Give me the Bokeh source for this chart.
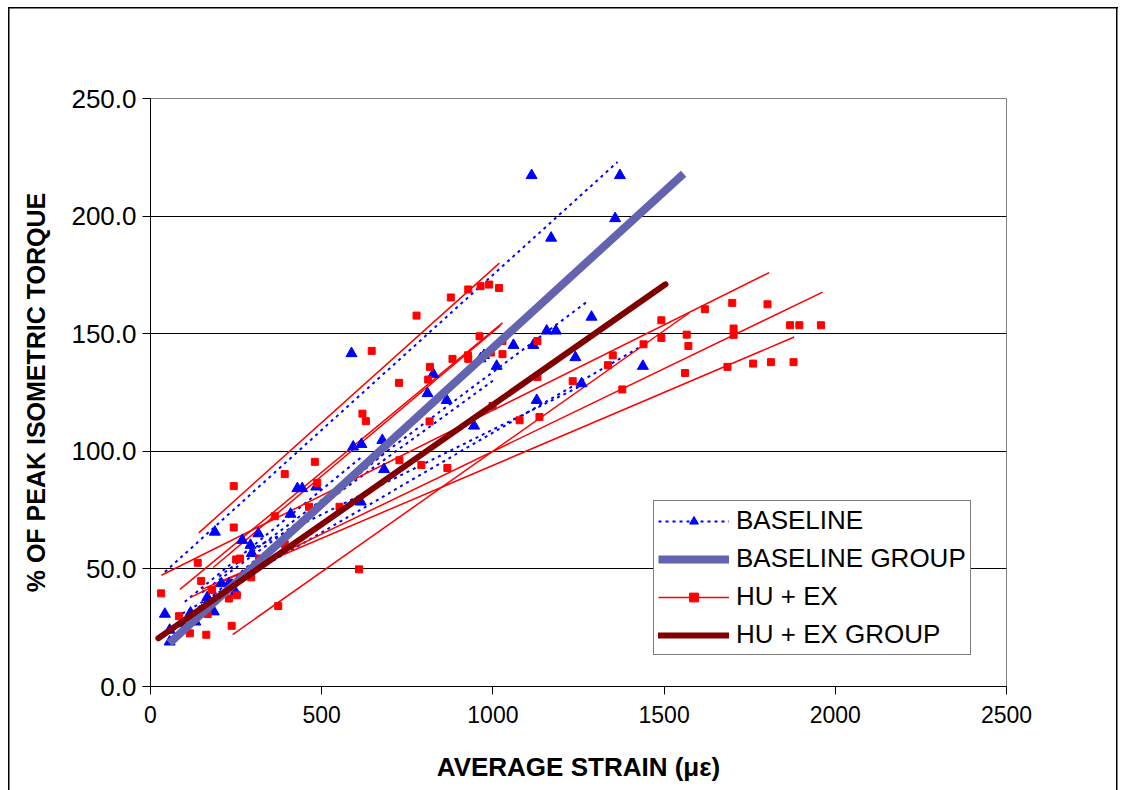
from bokeh.plotting import figure
from bokeh.models import (Range1d, FixedTicker, PrintfTickFormatter, Legend, LegendItem)
from bokeh.embed import file_html
from bokeh.resources import INLINE

# ---------------- data ----------------
base_x = [42, 56, 56, 91, 117, 131, 149, 166, 185, 188, 207, 229, 248, 268, 292, 296, 315,
          409, 429, 443, 484, 614, 587, 592, 616, 677, 682, 809, 826, 865, 945, 964, 974,
          1011, 1060, 1118, 1128, 1157, 1184, 1241, 1259, 1113, 1371, 1357, 1170, 1288, 1438]
base_y = [30.8, 24.0, 19.0, 26.8, 31.3, 27.5, 32.2, 37.9, 31.8, 65.7, 43.8, 43.8, 40.2, 62.2,
          60.1, 56.6, 65.0, 73.3, 84.2, 84.2, 84.9, 78.5, 141.6, 101.9, 103.0, 104.7, 92.3,
          124.6, 132.8, 121.7, 110.8, 139.4, 140.8, 136.2, 145.1, 145.1, 121.7, 151.2, 151.2,
          139.9, 128.8, 217.3, 217.3, 199.0, 190.7, 157.1, 136.2]

base_fit_x0 = [42, 200, 93, 290, 60, 100, 150]
base_fit_y0 = [48.7, 46.7, 31.0, 58.0, 24.0, 36.0, 40.0]
base_fit_x1 = [1364, 1276, 1437, 1260, 690, 620, 1000]
base_fit_y1 = [223.0, 163.7, 145.0, 128.0, 100.0, 98.0, 130.0]

hu_x = [31, 83, 115, 138, 148, 163, 167, 180, 229, 237, 243, 243, 250, 261, 252, 294, 317,
        363, 373, 392, 392, 463, 487, 552, 609, 480, 646, 777, 619, 629, 726, 816, 811, 815,
        727, 791, 867, 882, 927, 928, 961, 994, 1028, 1028, 999, 1078, 1130, 1130, 1136, 1233,
        877, 928, 964, 989, 1018, 1492, 1566, 1571, 1561, 1440, 1350, 1336, 1378, 1619, 1699,
        1802, 1703, 1703, 1492, 1868, 1895, 1958, 1685, 1760, 1812, 1878]
hu_y = [39.6, 29.9, 22.6, 52.6, 44.9, 22.0, 30.8, 41.0, 37.4, 25.8, 85.2, 67.6, 54.0, 54.4,
        38.8, 46.4, 54.4, 72.4, 34.2, 90.3, 60.5, 76.4, 86.6, 76.4, 49.8, 95.5, 142.7, 157.7,
        116.0, 112.8, 129.1, 135.9, 130.5, 112.7, 96.2, 94.2, 92.9, 139.3, 140.8, 139.3, 148.9,
        142.0, 146.9, 141.3, 119.3, 113.2, 146.9, 131.6, 114.6, 129.8, 165.4, 168.8, 170.2,
        170.9, 169.4, 155.7, 149.6, 144.8, 133.3, 145.5, 140.8, 136.6, 126.3, 160.4, 163.1,
        162.5, 152.2, 149.5, 148.2, 153.6, 153.6, 153.6, 135.9, 137.3, 137.9, 137.9]

hu_fit_x0 = [141, 86, 183, 32, 240, 117, 150]
hu_fit_y0 = [65.3, 41.3, 50.6, 47.3, 22.1, 37.9, 41.3]
hu_fit_x1 = [1019, 1028, 1022, 1807, 1573, 1963, 1880]
hu_fit_y1 = [180.0, 154.6, 153.5, 176.0, 158.8, 167.7, 148.6]

base_group_x = [55, 1557]
base_group_y = [18.4, 218.0]
hu_group_x = [23, 1504]
hu_group_y = [20.5, 171.0]

x_ticks = [0, 500, 1000, 1500, 2000, 2500]
y_ticks = [0, 50, 100, 150, 200, 250]

FONT = "Liberation Sans"

# ---------------- figure ----------------
# outer chart border drawn as CSS background lines behind a transparent canvas margin
border_css = ("linear-gradient(#000,#000) 8px 7px / 1.5px 800px no-repeat, "
              "linear-gradient(#000,#000) 8px 7px / 1110px 1.5px no-repeat, "
              "linear-gradient(#000,#000) 1116px 7px / 1.5px 800px no-repeat, #ffffff")

p = figure(width=1122, height=790, output_backend="svg", toolbar_location=None,
           x_range=Range1d(0, 2500), y_range=Range1d(0, 250),
           min_border_left=150, min_border_right=116, min_border_top=98, min_border_bottom=104,
           styles={"background": border_css})
p.background_fill_color = "white"
p.border_fill_color = None
p.outline_line_color = "#808080"
p.outline_line_width = 1

p.xgrid.visible = False
p.ygrid.ticker = FixedTicker(ticks=[50, 100, 150, 200])
p.ygrid.grid_line_color = "black"
p.ygrid.grid_line_width = 1

p.xaxis.ticker = FixedTicker(ticks=x_ticks)
p.yaxis.ticker = FixedTicker(ticks=y_ticks)
p.yaxis.formatter = PrintfTickFormatter(format="%.1f")
for ax in (p.xaxis, p.yaxis):
    ax.axis_line_color = "black"
    ax.axis_line_width = 1
    ax.major_tick_line_color = "black"
    ax.major_tick_out = 8
    ax.major_tick_in = 0
    ax.minor_tick_line_color = None
    ax.major_label_text_font = FONT
    ax.major_label_text_color = "black"
    ax.axis_label_text_font = FONT
    ax.axis_label_text_font_style = "bold"
    ax.axis_label_text_color = "black"

p.xaxis.major_label_text_font_size = "23px"
p.xaxis.major_label_standoff = 11
p.xaxis.axis_label = "AVERAGE STRAIN (\u03bc\u03b5)"
p.xaxis.axis_label_text_font_size = "26px"
p.xaxis.axis_label_standoff = 26

p.yaxis.major_label_text_font_size = "26px"
p.yaxis.major_label_standoff = 6
p.yaxis.axis_label = "% OF PEAK ISOMETRIC TORQUE"
p.yaxis.axis_label_text_font_size = "25px"
p.yaxis.axis_label_standoff = 18

# ---------------- glyphs ----------------
base_fit_xs = [[a, b] for a, b in zip(base_fit_x0, base_fit_x1)]
base_fit_ys = [[a, b] for a, b in zip(base_fit_y0, base_fit_y1)]
hu_fit_xs = [[a, b] for a, b in zip(hu_fit_x0, hu_fit_x1)]
hu_fit_ys = [[a, b] for a, b in zip(hu_fit_y0, hu_fit_y1)]

r_base_fit = p.multi_line(base_fit_xs, base_fit_ys, line_color="#0000FF", line_width=2,
                          line_dash="3 4")
r_hu_fit = p.multi_line(hu_fit_xs, hu_fit_ys, line_color="#FF0000", line_width=1.5)

r_base_pts = p.scatter(base_x, base_y, marker="triangle", size=11, fill_color="#0000FF",
                       line_color="#0000FF")
r_hu_pts = p.scatter(hu_x, hu_y, marker="square", size=7, fill_color="#FF0000",
                     line_color="#FF0000")

r_base_grp = p.line(base_group_x, base_group_y, line_color="#6363B0", line_width=8)
r_hu_grp = p.line(hu_group_x, hu_group_y, line_color="#800000", line_width=6,
                  line_cap="round")

legend = Legend(items=[
    LegendItem(label="BASELINE", renderers=[r_base_fit, r_base_pts]),
    LegendItem(label="BASELINE GROUP", renderers=[r_base_grp]),
    LegendItem(label="HU + EX", renderers=[r_hu_fit, r_hu_pts]),
    LegendItem(label="HU + EX GROUP", renderers=[r_hu_grp]),
], location=(503, 31))
legend.label_text_font = FONT
legend.label_text_font_size = "26px"
legend.label_text_color = "black"
legend.glyph_width = 71
legend.glyph_height = 22
legend.label_height = 22
legend.label_standoff = 7
legend.spacing = 7
legend.padding = 4
legend.margin = 0
legend.border_line_color = "black"
legend.border_line_width = 1
legend.background_fill_color = "white"
legend.background_fill_alpha = 1
p.add_layout(legend, "center")

open("out.html", "w").write(file_html(p, INLINE))
